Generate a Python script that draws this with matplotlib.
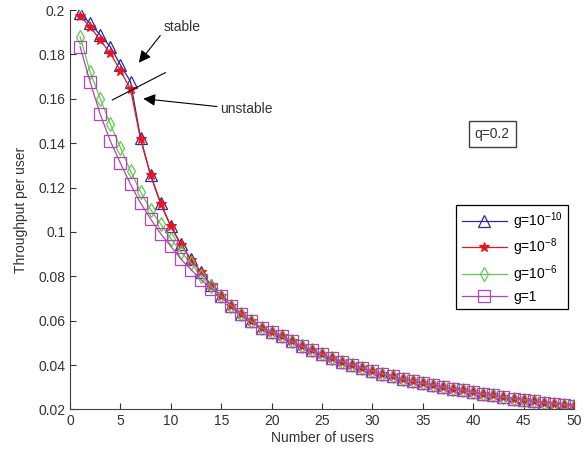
import matplotlib

matplotlib.use("Agg")
import matplotlib.pyplot as plt
from matplotlib.ticker import FormatStrFormatter

plt.rcParams["font.family"] = ["Liberation Sans", "DejaVu Sans"]
plt.rcParams["mathtext.fontset"] = "custom"
plt.rcParams["mathtext.rm"] = "Liberation Sans"
plt.rcParams["mathtext.it"] = "Liberation Sans"

# Number of users
users = list(range(1, 51))

# Common tail (n = 15..50), where all curves overlap
tail = [0.0710, 0.0668, 0.0630, 0.0597, 0.0567, 0.0550, 0.0530, 0.0507, 0.0486, 0.0466,
        0.0448, 0.0431, 0.0416, 0.0401, 0.0387, 0.0373, 0.0361, 0.0349, 0.0338, 0.0328,
        0.0318, 0.0310, 0.0302, 0.0294, 0.0286, 0.0278, 0.0270, 0.0263, 0.0256, 0.0249,
        0.0243, 0.0237, 0.0231, 0.0226, 0.0221, 0.0216]

g_1e10 = [0.1985, 0.1940, 0.1888, 0.1835, 0.1753, 0.1678, 0.1423, 0.1255, 0.1130, 0.1025,
          0.0945, 0.0877, 0.0820, 0.0760] + tail
g_1e8 = [0.1973, 0.1925, 0.1865, 0.1805, 0.1727, 0.1643, 0.1418, 0.1255, 0.1125, 0.1025,
         0.0943, 0.0875, 0.0818, 0.0758] + tail
g_1e6 = [0.1880, 0.1720, 0.1600, 0.1485, 0.1380, 0.1275, 0.1180, 0.1100, 0.1035, 0.0970,
         0.0910, 0.0860, 0.0800, 0.0755] + tail
g_1 = [0.1835, 0.1675, 0.1530, 0.1410, 0.1310, 0.1215, 0.1130, 0.1058, 0.0992, 0.0935,
       0.0878, 0.0830, 0.0785, 0.0745] + tail

labels = [r"g=10$^{-10}$", r"g=10$^{-8}$", r"g=10$^{-6}$", "g=1"]

fig = plt.figure(figsize=(5.85, 4.59), dpi=100)
ax = fig.add_axes([0.1197, 0.108, 0.8615, 0.87])

ax.plot(users, g_1e10, "-^", color="#2a2a9c", lw=0.9, markersize=8,
        markerfacecolor="none", markeredgewidth=0.9, label=labels[0])
ax.plot(users, g_1e8, "-*", color="#e8161e", lw=0.9, markersize=7.5,
        markeredgewidth=0.8, label=labels[1])
ax.plot(users, g_1e6, "-d", color="#62c852", lw=0.9, markersize=7.5,
        markerfacecolor="none", markeredgewidth=0.9, label=labels[2])
ax.plot(users, g_1, "-s", color="#b445b4", lw=0.9, markersize=9,
        markerfacecolor="none", markeredgewidth=0.9, label=labels[3])

ax.set_xlim(0, 50)
ax.set_ylim(0.02, 0.2)
ax.set_xticks(range(0, 51, 5))
ax.set_yticks([0.02, 0.04, 0.06, 0.08, 0.1, 0.12, 0.14, 0.16, 0.18, 0.2])
ax.yaxis.set_major_formatter(FormatStrFormatter("%g"))
ax.tick_params(direction="in", length=4, labelsize=10, colors="#333333")
ax.spines["top"].set_visible(False)
ax.spines["right"].set_visible(False)
for s in ("left", "bottom"):
    ax.spines[s].set_color("#404040")

ax.set_xlabel("Number of users", fontsize=10, color="#333333", labelpad=2)
ax.set_ylabel("Throughput per user", fontsize=10, color="#333333", labelpad=7)

# Annotations
arrow = dict(arrowstyle="-|>", color="black", lw=0.8, mutation_scale=18)
ax.annotate("", xy=(6.66, 0.1753), xytext=(9.12, 0.1895), arrowprops=arrow)
ax.text(9.25, 0.1925, "stable", fontsize=10, color="#333333", va="center", ha="left")
ax.annotate("", xy=(6.99, 0.1602), xytext=(14.86, 0.1564), arrowprops=arrow)
ax.text(14.86, 0.1553, "unstable", fontsize=10, color="#333333", va="center", ha="left")
ax.plot([4.2, 9.45], [0.1595, 0.1718], color="black", lw=0.8)

ax.text(41.9, 0.1442, "q=0.2", fontsize=10, color="#333333", ha="center", va="center",
        bbox=dict(boxstyle="square,pad=0.45", facecolor="white", edgecolor="#404040", lw=1))

leg = ax.legend(loc="upper left", bbox_to_anchor=(0.752, 0.53), fontsize=10,
                fancybox=False, edgecolor="black", framealpha=1, handlelength=3.3,
                borderpad=0.4, labelspacing=0.35, handletextpad=0.4)
leg.get_frame().set_linewidth(0.9)

fig.savefig("out.png", dpi=100)
